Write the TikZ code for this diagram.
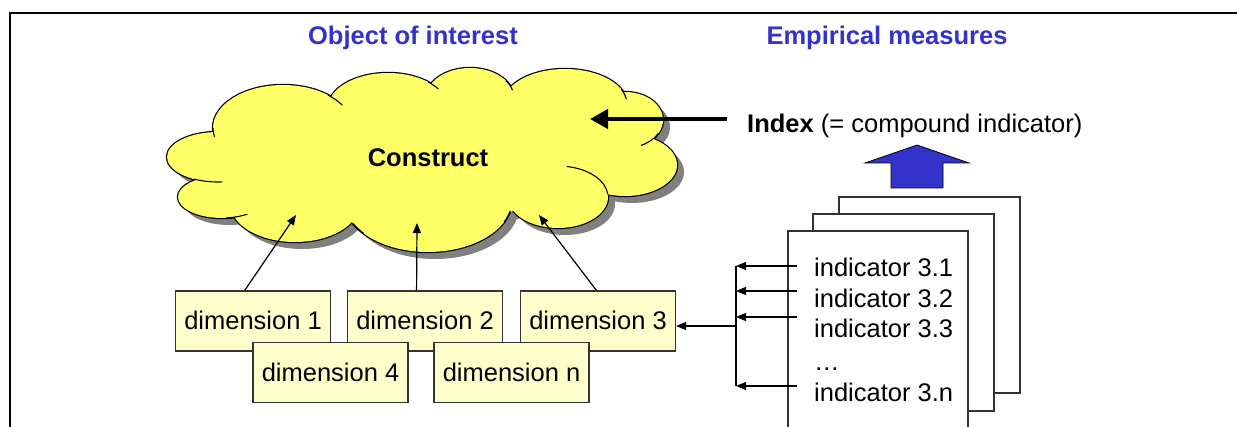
\documentclass[tikz,border=0pt]{standalone}
\usepackage{fontspec}
\setmainfont{Liberation Sans}
\usetikzlibrary{arrows.meta,calc}
\definecolor{cloudyellow}{HTML}{FFFF66}
\definecolor{dimfill}{HTML}{FFFFCC}
\definecolor{titleblue}{HTML}{3333CC}
\definecolor{boxline}{HTML}{333333}
\definecolor{shadowgray}{HTML}{808080}
\begin{document}
\begin{tikzpicture}[x=1pt,y=-1pt,
  every node/.style={font=\fontsize{25.5}{30}\selectfont},
  title/.style={text=titleblue,font=\fontsize{25.5}{30}\selectfont\bfseries,anchor=base,inner sep=0pt},
  dimbox/.style={draw=boxline,fill=dimfill,line width=1.2pt,minimum width=155pt,minimum height=60pt,inner sep=0pt,text height=18pt,text depth=0pt},
  page/.style={draw=boxline,fill=white,line width=1.3pt},
  ind/.style={anchor=base west,inner sep=0pt},
  conn/.style={line width=1.2pt,-{Triangle[length=10pt,width=8pt]}},
  bigconn/.style={line width=4.5pt,-{Triangle[length=18pt,width=19pt]}},
  tail/.style={line width=1.1pt},
]
\path[use as bounding box] (0,0) rectangle (1237,427);
\clip (0,0) rectangle (1237,427);
\fill[white] (0,0) rectangle (1237,427);
% frame
\draw[line width=2.2pt] (10,440) -- (10,13) -- (1250,13);
% titles
\node[title] (t1) at (413,45) {Object of interest};
\node[title] (t2) at (887,45) {Empirical measures};
% cloud: shadow, outline, fill
\def\lobes{283/128/70/43, 388/108/60/35, 470/98/44/30, 565/104/62/35, 625/120/38/28, 625/165/52/31, 558/197/50/31, 428/200/84/52, 295/205/64/37, 222/197/44/21, 218/157/51/25}
\foreach \cx/\cy/\rx/\ry in \lobes {
  \fill[shadowgray] (\cx+7,\cy+7) ellipse [x radius=\rx, y radius=\ry];
}
\fill[shadowgray] (232,137)--(307,117)--(457,107)--(607,117)--(637,147)--(607,192)--(507,222)--(357,222)--(237,212)--(202,172)--cycle;
\foreach \cx/\cy/\rx/\ry in \lobes {
  \draw[line width=2.4pt] (\cx,\cy) ellipse [x radius=\rx, y radius=\ry];
}
\foreach \cx/\cy/\rx/\ry in \lobes {
  \fill[cloudyellow] (\cx,\cy) ellipse [x radius=\rx, y radius=\ry];
}
\fill[cloudyellow] (225,130)--(300,110)--(450,100)--(600,110)--(630,140)--(600,185)--(500,215)--(350,215)--(230,205)--(195,165)--cycle;
% inner tails of the cloud lobes
\foreach \cx/\cy/\rx/\ry/\ta/\tb in {283/128/70/43/180/168, 218/157/51/25/118/85, 222/197/44/21/85/55, 428/200/84/52/140/153, 428/200/84/52/25/12, 558/197/50/31/-80/-5, 625/120/38/28/28/65, 565/104/62/35/-25/-8, 470/98/44/30/-35/-15, 388/108/60/35/-48/-33, 283/128/70/43/-50/-32} {
  \draw[tail] ({\cx+\rx*cos(\ta)},{\cy+\ry*sin(\ta)}) arc [start angle=\ta, end angle=\tb, x radius=\rx, y radius=\ry];
}
\node[font=\fontsize{25.5}{30}\selectfont\bfseries,anchor=base,inner sep=0pt] (cons) at (428,167) {Construct};
% cloud targets
\coordinate (c1) at (296,215);
\coordinate (c2) at (417,223);
\coordinate (c3) at (539,215);
\coordinate (ca) at (590,119);
% dimension boxes
\node[dimbox] (d1) at (253,321) {dimension 1};
\node[dimbox] (d2) at (425,321) {dimension 2};
\node[dimbox] (d3) at (598,321) {dimension 3};
\node[dimbox] (d4) at (330.5,372.5) {dimension 4};
\node[dimbox] (dn) at (511.5,372.5) {dimension n};
\draw[conn] ($(d1.north west)!0.447!(d1.north east)$) -- (c1);
\draw[conn] ($(d2.north west)!0.446!(d2.north east)$) -- (c2);
\draw[conn] ($(d3.north west)!0.49!(d3.north east)$) -- (c3);
% index
\node[anchor=base west,inner sep=0pt] (idx) at (747,133) {\textbf{Index} (= compound indicator)};
\coordinate (ia) at (727,119);
\draw[bigconn] (ia) -- (ca);
% blue up arrow
\draw[fill=titleblue,draw=black,line width=0.8pt] (891,188) -- (891,163) -- (865,163) -- (917,145) -- (969,163) -- (943,163) -- (943,188) -- cycle;
% pages
\draw[page] (839,197) rectangle (1020,393);
\draw[page] (813,214) rectangle (994,411);
\draw[page] (788,231) rectangle (968,440);
\node[ind] (i1) at (814,277) {indicator 3.1};
\node[ind] (i2) at (814,308) {indicator 3.2};
\node[ind] (i3) at (814,338) {indicator 3.3};
\node[ind] (id) at (814,371) {…};
\node[ind] (in) at (814,402) {indicator 3.n};
% indicator connectors
\coordinate (s1) at (797,266);
\coordinate (s2) at (797,291);
\coordinate (s3) at (797,317);
\coordinate (sn) at (797,386);
\coordinate (b1) at (736,266);
\coordinate (b2) at (736,291);
\coordinate (b3) at (736,317);
\coordinate (bn) at (736,386);
\coordinate (bus) at (736,326);
\draw[line width=1.2pt] (b1) -- (bn);
\draw[conn] (s1) -- (b1);
\draw[conn] (s2) -- (b2);
\draw[conn] (s3) -- (b3);
\draw[conn] (sn) -- (bn);
\draw[conn] (bus) -- (bus -| d3.east);
\end{tikzpicture}
\end{document}
